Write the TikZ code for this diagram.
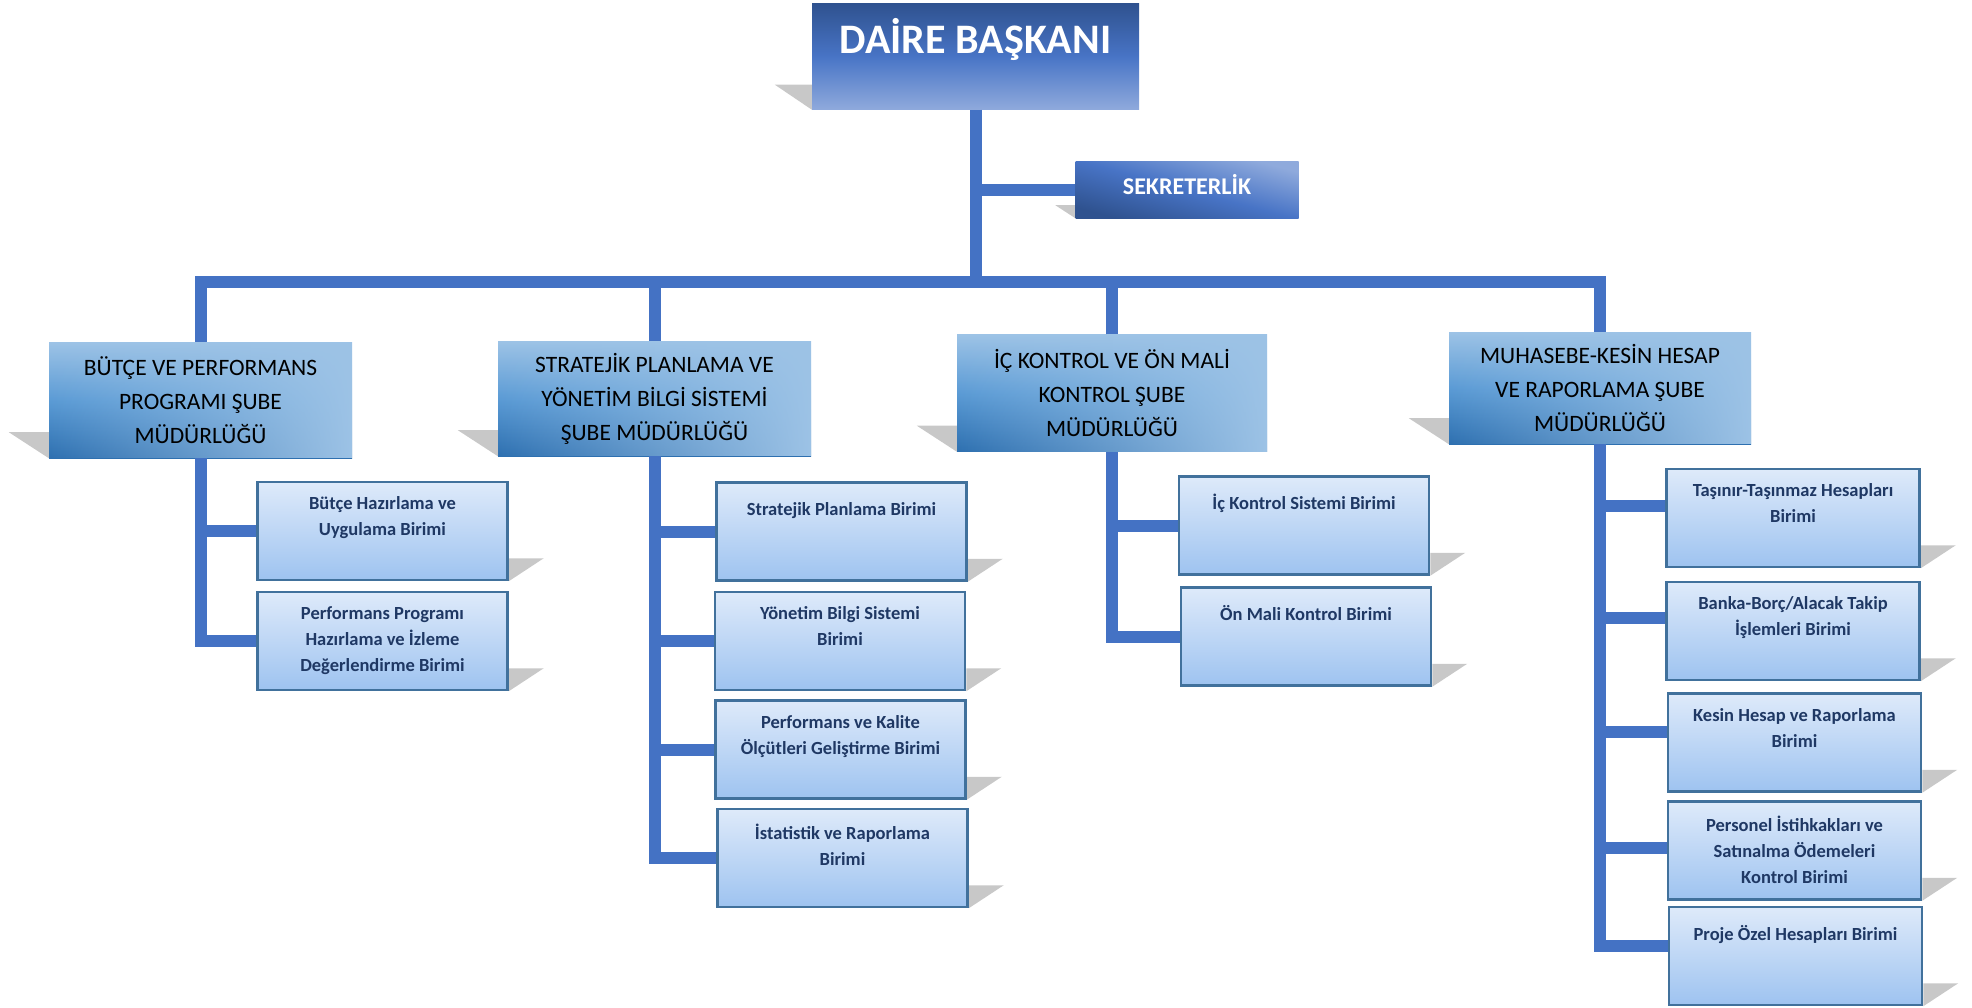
\documentclass[tikz,border=0pt]{standalone}
\usepackage{fontspec}
\setmainfont{Carlito}
\usetikzlibrary{positioning,calc,fadings,backgrounds}

\definecolor{hatmavi}{RGB}{68,114,196}
\definecolor{golgegri}{RGB}{200,200,200}
\definecolor{baskankoyu}{RGB}{47,82,143}
\definecolor{baskanorta}{RGB}{72,116,198}
\definecolor{baskanacik}{RGB}{143,170,220}
\definecolor{subeacik}{RGB}{157,195,230}
\definecolor{subeorta}{RGB}{91,155,213}
\definecolor{subekoyu}{RGB}{46,112,176}
\definecolor{birimust}{RGB}{222,234,250}
\definecolor{birimalt}{RGB}{158,195,240}
\definecolor{birimcizgi}{RGB}{65,113,156}
\definecolor{birimyazi}{RGB}{31,56,100}

\tikzfading[name=sagaacik, left color=transparent!100, right color=transparent!0]

\begin{document}
\begin{tikzpicture}[x=1pt, y=-1pt,
    hat/.style = {draw=hatmavi, line width=12pt, line join=miter},
    golge/.style = {fill=golgegri},
    baskan/.style = {top color=baskankoyu, bottom color=baskanacik, middle color=baskanorta, inner sep=0pt},
    baskanyazi/.style = {text=white, font=\fontsize{42}{50}\selectfont\bfseries, inner sep=0pt},
    sekreter/.style = {top color=baskanacik, bottom color=baskankoyu, middle color=baskanorta, shading angle=-15, inner sep=0pt},
    sekreteryazi/.style = {text=white, font=\fontsize{24}{28}\selectfont\bfseries, inner sep=0pt},
    sube/.style = {top color=subeacik, bottom color=subekoyu, middle color=subeorta, inner sep=0pt,
        align=center, font=\fontsize{23.5}{34}\selectfont,
        path picture={\fill[subeacik, path fading=sagaacik] (path picture bounding box.south west) rectangle (path picture bounding box.north east);}},
    birim/.style = {draw=birimcizgi, line width=2.5pt, top color=birimust, bottom color=birimalt,
        minimum width=250pt, minimum height=98pt, inner sep=0pt},
    birimyazi/.style = {text=birimyazi, align=center, inner sep=0pt,
        font=\fontsize{18.5}{26}\selectfont\bfseries, execute at begin node=\strut}]

    \useasboundingbox (0,0) rectangle (1972,1007);

    % ust kisim
    \node[baskan, minimum width=327pt, minimum height=106pt] (daire) at (975.5,56.5) {};
    \node[baskanyazi, anchor=base] (daire-y) at (975.5,53) {DAİRE BAŞKANI};
    \node[sekreter, minimum width=223pt, minimum height=57pt] (sek) at (1187,189.5) {};
    \node[sekreteryazi, anchor=base] (sek-y) at (1187,194) {SEKRETERLİK};

    % sube mudurlukleri
    \node[sube, minimum width=303pt, minimum height=116pt] (butce) at (200.5,400) {BÜTÇE VE PERFORMANS\\PROGRAMI ŞUBE\\MÜDÜRLÜĞÜ};
    \node[sube, minimum width=313pt, minimum height=115pt] (strat) at (654.5,398.5) {STRATEJİK PLANLAMA VE\\YÖNETİM BİLGİ SİSTEMİ\\ŞUBE MÜDÜRLÜĞÜ};
    \node[sube, minimum width=310pt, minimum height=117pt] (ic) at (1112,393) {İÇ KONTROL VE ÖN MALİ\\KONTROL ŞUBE\\MÜDÜRLÜĞÜ};
    \node[sube, minimum width=302pt, minimum height=112pt] (muh) at (1600,388) {MUHASEBE-KESİN HESAP\\VE RAPORLAMA ŞUBE\\MÜDÜRLÜĞÜ};

    % birimler
    \node[birim] (b1) at (382.5,531) {};
    \node[birimyazi, below=16pt of b1.north] (b1-y) {Bütçe Hazırlama ve\\Uygulama Birimi};
    \node[birim] (b2) at (382.5,641) {};
    \node[birimyazi, below=16pt of b2.north] (b2-y) {Performans Programı\\Hazırlama ve İzleme\\Değerlendirme Birimi};

    \node[birim] (s1) at (841.5,531.5) {};
    \node[birimyazi, below=16pt of s1.north] (s1-y) {Stratejik Planlama Birimi};
    \node[birim] (s2) at (840,641) {};
    \node[birimyazi, below=16pt of s2.north] (s2-y) {Yönetim Bilgi Sistemi\\Birimi};
    \node[birim] (s3) at (840.5,749.5) {};
    \node[birimyazi, below=16pt of s3.north] (s3-y) {Performans ve Kalite\\Ölçütleri Geliştirme Birimi};
    \node[birim] (s4) at (842.5,858) {};
    \node[birimyazi, below=16pt of s4.north] (s4-y) {İstatistik ve Raporlama\\Birimi};

    \node[birim] (i1) at (1304,525.5) {};
    \node[birimyazi, below=16pt of i1.north] (i1-y) {İç Kontrol Sistemi Birimi};
    \node[birim] (i2) at (1306,636.5) {};
    \node[birimyazi, below=16pt of i2.north] (i2-y) {Ön Mali Kontrol Birimi};

    \node[birim, minimum width=253pt] (m1) at (1793,518) {};
    \node[birimyazi, below=16pt of m1.north] (m1-y) {Taşınır-Taşınmaz Hesapları\\Birimi};
    \node[birim, minimum width=253pt] (m2) at (1793,631) {};
    \node[birimyazi, below=16pt of m2.north] (m2-y) {Banka-Borç/Alacak Takip\\İşlemleri Birimi};
    \node[birim, minimum width=253pt] (m3) at (1794.5,742.5) {};
    \node[birimyazi, below=16pt of m3.north] (m3-y) {Kesin Hesap ve Raporlama\\Birimi};
    \node[birim, minimum width=253pt] (m4) at (1794.5,850.5) {};
    \node[birimyazi, below=16pt of m4.north] (m4-y) {Personel İstihkakları ve\\Satınalma Ödemeleri\\Kontrol Birimi};
    \node[birim, minimum width=253pt] (m5) at (1795.5,956) {};
    \node[birimyazi, below=16pt of m5.north] (m5-y) {Proje Özel Hesapları Birimi};

    % baglantilar
    \coordinate (bus) at (975.5,282);
    \draw[hat] (daire.south) -- (bus);
    \draw[hat] (daire.south |- sek.west) -- (sek.west);
    \draw[hat] (butce.north) |- (bus) -| (muh.north);
    \draw[hat] (strat.north) -- (strat.north |- bus);
    \draw[hat] (ic.north) -- (ic.north |- bus);

    \foreach \n in {b1,b2}
        \draw[hat] (\n.west) -| (butce.south);
    \foreach \n in {s1,s2,s3,s4}
        \draw[hat] (\n.west) -| (strat.south);
    \foreach \n in {i1,i2}
        \draw[hat] (\n.west) -| (ic.south);
    \foreach \n/\d in {m1/12,m2/13,m3/11,m4/3,m5/10}
        \draw[hat] ([yshift=\d pt]\n.west) -| (muh.south);

    % golgeler
    \begin{scope}[on background layer]
        \foreach \n in {butce,strat,ic,muh}
            \fill[golge] ($(\n.south west)+(-40,-26)$) -- ($(\n.south west)+(0,-26)$) -- (\n.south west) -- cycle;
        \foreach \n in {b1,b2,s1,s2,s3,s4,i1,i2,m1,m2,m3,m4,m5}
            \fill[golge] ($(\n.south east)+(0,-23)$) -- ($(\n.south east)+(35,-23)$) -- (\n.south east) -- cycle;
        \fill[golge] ($(daire.south west)+(-37,-25)$) -- ($(daire.south west)+(0,-25)$) -- (daire.south west) -- cycle;
        \fill[golge] ($(sek.south west)+(-20,-13)$) -- ($(sek.south west)+(0,-13)$) -- (sek.south west) -- cycle;
    \end{scope}

\end{tikzpicture}
\end{document}
